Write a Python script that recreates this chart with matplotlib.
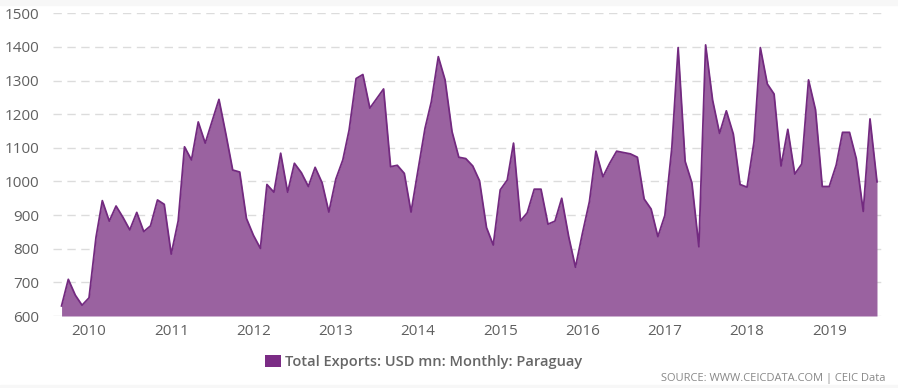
import numpy as np
import pandas as pd
import matplotlib
matplotlib.use("Agg")
from matplotlib import pyplot as plt
from matplotlib.patches import Patch

# monthly total exports, USD mn, Sep 2009 - Aug 2019
exports = [
    630, 709, 662, 632, 654, 834, 943, 882, 927, 893, 856, 908,
    851, 868, 945, 932, 784, 883, 1103, 1064, 1177, 1114, 1178, 1244,
    1140, 1034, 1028, 890, 840, 801, 991, 968, 1084, 968, 1054, 1026,
    985, 1042, 996, 909, 1007, 1064, 1153, 1306, 1318, 1218, 1246, 1275,
    1044, 1048, 1024, 909, 1034, 1158, 1237, 1371, 1302, 1148, 1072, 1068,
    1046, 1002, 863, 811, 975, 1004, 1114, 883, 907, 977, 977, 873,
    882, 950, 836, 745, 846, 940, 1090, 1014, 1054, 1090, 1086, 1082,
    1072, 948, 918, 836, 899, 1100, 1398, 1060, 996, 806, 1406, 1242,
    1143, 1210, 1141, 991, 983, 1118, 1398, 1290, 1260, 1046, 1155, 1022,
    1052, 1302, 1213, 985, 985, 1049, 1146, 1146, 1068, 911, 1186, 999,
]
dates = pd.date_range("2009-09-01", periods=len(exports), freq="MS")
years = list(range(2010, 2020))
yticks = list(range(600, 1501, 100))
series_name = "Total Exports: USD mn: Monthly: Paraguay"

plt.rcParams['font.family'] = ['Open Sans', 'DejaVu Sans']

fig = plt.figure(figsize=(8.98, 3.88), dpi=100)
fig.patch.set_facecolor('white')
ax = fig.add_axes([53 / 898, 1 - 316 / 388, (886 - 53) / 898, (316 - 13.3) / 388])

ax.fill_between(dates, exports, 600, color='#9a62a0', linewidth=0)
ax.plot(dates, exports, color='#732a80', linewidth=1.3)

ax.set_ylim(600, 1500)
ax.set_xlim(pd.Timestamp("2009-07-25"), pd.Timestamp("2019-09-10"))
ax.set_yticks(yticks)
ax.set_xticks([pd.Timestamp(f"{y}-01-01") for y in years])
ax.set_xticklabels([str(y) for y in years])
ax.grid(axis='y', color='#dcdcdc', linestyle=(0, (6, 4)), linewidth=1)
ax.set_axisbelow(True)
for s in ax.spines.values():
    s.set_visible(False)
ax.tick_params(length=0, colors='#606060', labelsize=11)
ax.tick_params(axis='y', pad=10)
ax.tick_params(axis='x', pad=6)

# top and bottom light strips
fig.patches.append(plt.Rectangle((0, 1 - 5 / 388), 1, 5 / 388, transform=fig.transFigure,
                                 color='#f7f7f7', zorder=0))
fig.patches.append(plt.Rectangle((0, 0), 1, 3 / 388, transform=fig.transFigure,
                                 color='#f7f7f7', zorder=0))

handle = Patch(facecolor='#7b2c85', edgecolor='none')
fig.legend([handle], [series_name], loc='center', bbox_to_anchor=(0.472, 1 - 362 / 388),
           frameon=False, handlelength=1.1, handleheight=0.9, handletextpad=0.3,
           prop={'size': 10.5, 'weight': 'semibold'}, labelcolor='#666666')

fig.text(0.986, 1 - 378 / 388, "SOURCE: WWW.CEICDATA.COM | CEIC Data", ha='right', va='center',
         fontsize=8, color='#888888')

fig.savefig("out.png", dpi=100)
